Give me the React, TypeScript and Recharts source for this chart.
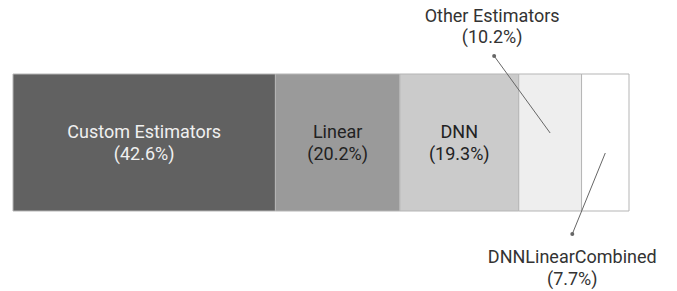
import React from 'react'
import { BarChart, Bar, XAxis, YAxis, LabelList } from 'recharts'

const categories = ['Custom Estimators', 'Linear', 'DNN', 'Other Estimators', 'DNNLinearCombined']
const shares = [42.6, 20.2, 19.3, 10.2, 7.7]
const fills = ['#616161', '#9a9a9a', '#cbcbcb', '#eeeeee', '#ffffff']
const textColors = ['#f0f0f0', '#222222', '#222222', '#333333', '#333333']

const row: Record<string, any> = { name: 'usage' }
categories.forEach((c, i) => {
  row[`s${i}`] = shares[i]
})
const data = [row]

const FONT = 'Roboto, "Noto Sans", sans-serif'
const FS = 18

function makeLabel(i: number) {
  return (props: any) => {
    const x = Number(props.x)
    const y = Number(props.y)
    const w = Number(props.width)
    const h = Number(props.height)
    const cx = x + w / 2
    const cy = y + h / 2
    const pct = `(${shares[i]}%)`
    if (i === 3) {
      // leader line up and left
      const tx = cx - 58
      const ty = y - 18
      return (
        <g>
          <line x1={cx} y1={y + 59} x2={tx + 2} y2={ty} stroke="#666" strokeWidth={1} />
          <circle cx={tx + 2} cy={ty} r={2} fill="#666" />
          <text x={tx} y={y - 52} textAnchor="middle" fill={textColors[i]} fontFamily={FONT} fontSize={FS}>
            {categories[i]}
          </text>
          <text x={tx} y={y - 31} textAnchor="middle" fill={textColors[i]} fontFamily={FONT} fontSize={FS}>
            {pct}
          </text>
        </g>
      )
    }
    if (i === 4) {
      // leader line down and left
      const tx = cx - 33
      const ty = y + h + 23
      return (
        <g>
          <line x1={cx} y1={y + 79} x2={tx} y2={ty} stroke="#666" strokeWidth={1} />
          <circle cx={tx} cy={ty} r={2} fill="#666" />
          <text x={tx} y={y + h + 52} textAnchor="middle" fill={textColors[i]} fontFamily={FONT} fontSize={FS}>
            {categories[i]}
          </text>
          <text x={tx} y={y + h + 74} textAnchor="middle" fill={textColors[i]} fontFamily={FONT} fontSize={FS}>
            {pct}
          </text>
        </g>
      )
    }
    return (
      <g>
        <text x={cx} y={cy - 5} textAnchor="middle" fill={textColors[i]} fontFamily={FONT} fontSize={FS}>
          {categories[i]}
        </text>
        <text x={cx} y={cy + 17} textAnchor="middle" fill={textColors[i]} fontFamily={FONT} fontSize={FS}>
          {pct}
        </text>
      </g>
    )
  }
}

export default function App() {
  return (
    <div style={{ position: 'absolute', left: 0, top: 0, width: 677, height: 291, background: '#fff' }}>
      <BarChart
        width={677}
        height={291}
        data={data}
        layout="vertical"
        margin={{ top: 74, right: 48, bottom: 80, left: 13 }}
        barCategoryGap={0}
      >
        <XAxis type="number" domain={[0, 100]} hide />
        <YAxis type="category" dataKey="name" hide />
        {categories.map((c, i) => (
          <Bar
            key={c}
            dataKey={`s${i}`}
            stackId="a"
            fill={fills[i]}
            stroke="#b5b5b5"
            strokeWidth={1}
            isAnimationActive={false}
          >
            <LabelList dataKey={`s${i}`} content={makeLabel(i)} />
          </Bar>
        ))}
      </BarChart>
    </div>
  )
}
